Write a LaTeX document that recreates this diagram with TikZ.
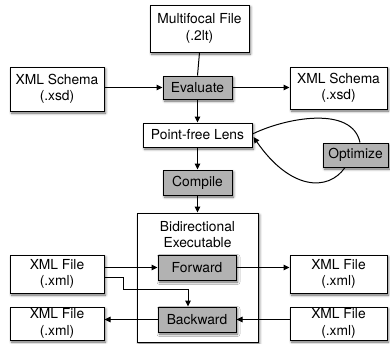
\documentclass[tikz,border=0pt]{standalone}
\usepackage{fontspec}
\setmainfont{TeX Gyre Heros}
\usetikzlibrary{arrows.meta,shadows.blur,calc}
\begin{document}
\begin{tikzpicture}[x=1pt,y=-1pt,
  font=\fontsize{13.8}{16.5}\selectfont,
  box/.style={draw=black,line width=1pt,fill=white,inner sep=0pt,align=center,
    blur shadow={shadow xshift=1.5pt,shadow yshift=-2pt,shadow blur radius=2.5pt,shadow opacity=60}},
  gbox/.style={box,fill=black!30},
  conn/.style={line width=1pt},
  arr/.style={conn,-{Triangle[length=6pt,width=5.5pt]}}]
\useasboundingbox (0,0) rectangle (390,343);
\node[box,minimum width=99pt,minimum height=47pt] (mf) at (199.5,28.5) {Multifocal File\\(.2lt)};
\node[box,minimum width=94pt,minimum height=44pt] (xsl) at (57,89) {XML Schema\\(.xsd)};
\node[box,minimum width=97pt,minimum height=42pt] (xsr) at (338.5,88) {XML Schema\\(.xsd)};
\node[gbox,minimum width=69pt,minimum height=23pt] (ev) at (197.5,87.5) {Evaluate};
\node[box,minimum width=109pt,minimum height=24pt] (pfl) at (197.5,135) {Point-free Lens};
\node[gbox,minimum width=65pt,minimum height=24pt] (opt) at (355.5,155) {Optimize};
\node[gbox,minimum width=69pt,minimum height=25pt] (comp) at (197.5,182.5) {Compile};
\node[box,minimum width=121pt,minimum height=129pt] (bidi) at (197.5,277.5) {};
\node[align=center,inner sep=0pt] (bidit) at (197.5,234.5) {Bidirectional\\Executable};
\node[gbox,minimum width=78pt,minimum height=25pt] (fwd) at (197,267.5) {Forward};
\node[gbox,minimum width=78pt,minimum height=25pt] (bwd) at (197,319.5) {Backward};
\node[box,minimum width=94pt,minimum height=38pt] (xf1) at (57,274) {XML File\\(.xml)};
\node[box,minimum width=94pt,minimum height=33pt] (xf2) at (57,323.5) {XML File\\(.xml)};
\node[box,minimum width=97pt,minimum height=38pt] (xf3) at (338.5,274) {XML File\\(.xml)};
\node[box,minimum width=97pt,minimum height=33pt] (xf4) at (338.5,323.5) {XML File\\(.xml)};
\coordinate (optt) at ($(opt.north)+(4.5,0)$);
\coordinate (optb) at ($(opt.south)+(-10.5,0)$);
\draw[conn] (mf.south) -- (ev.north);
\draw[arr] (xsl.east |- ev.west) -- (ev.west);
\draw[arr] (ev.east) -- (ev.east -| xsr.west);
\draw[arr] (ev.south) -- (pfl.north);
\draw[arr] (pfl.south) -- (comp.north);
\draw[arr] (comp.south) -- (bidi.north);
\draw[conn] ($(pfl.east)+(0,-1)$) .. controls (285,118) and (352,105) .. (optt);
\draw[arr] (optb) .. controls (328,192) and (290,190) .. ($(pfl.east)+(1,2)$);
\draw[arr] (xf1.east |- fwd.west) -- (fwd.west);
\draw[arr] (fwd.east) -- (fwd.east -| xf3.west);
\draw[arr] (xf4.west |- bwd.east) -- (bwd.east);
\draw[arr] (bwd.west) -- (bwd.west -| xf2.east);
\draw[arr] ($(xf1.east)+(0,3)$) -| (123,289) -| ($(bwd.north)+(-9,0)$);
\end{tikzpicture}
\end{document}
